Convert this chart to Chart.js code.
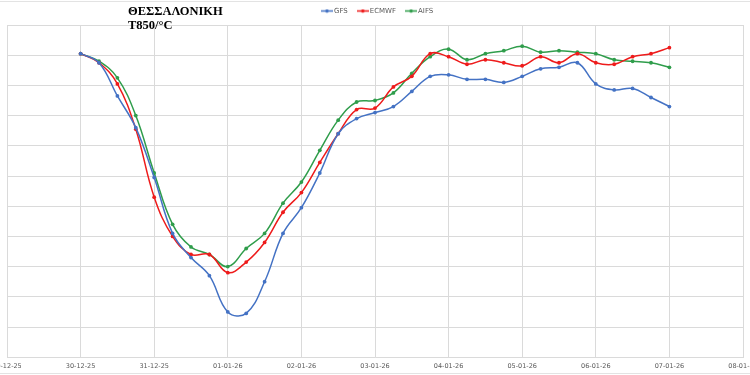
<!DOCTYPE html>
<html lang="el">
<head>
  <meta charset="UTF-8">
  <title>ΘΕΣΣΑΛΟΝΙΚΗ T850</title>
  <script src="https://cdn.jsdelivr.net/npm/chart.js"></script>
  <style>
    html, body {
      margin: 0;
      padding: 0;
      background: #fff;
      overflow: hidden;
      width: 750px;
      height: 375px;
    }
    #wrap {
      position: absolute;
      left: -20px;
      top: 0;
      width: 790px;
      height: 375px;
    }
    #frame {
      position: absolute;
      left: 0;
      top: 1px;
      width: 750px;
      height: 371px;
      border-top: 1px solid #e3e3e3;
      border-bottom: 1px solid #e3e3e3;
      pointer-events: none;
    }
  </style>
</head>
<body>
  <div id="wrap"><canvas id="t850" width="790" height="375"></canvas></div>
  <div id="frame"></div>

  <script>
    // day labels, one gridline per day (00 UTC); runs are 6-hourly from 30-12-25
    const dayLabels = ['29-12-25', '30-12-25', '31-12-25', '01-01-26', '02-01-26', '03-01-26',
                       '04-01-26', '05-01-26', '06-01-26', '07-01-26', '08-01-26'];
    const stepsPerDay = 4;
    const firstStep = 4; // 30-12-25 00

    const gfs = [10.1, 9.5, 7.3, 5.2, 1.9, -1.8, -3.4, -4.6, -7.0, -7.1, -5.0, -1.8, -0.1,
                 2.2, 4.8, 5.8, 6.2, 6.6, 7.6, 8.6, 8.7, 8.4, 8.4, 8.2, 8.6, 9.1,
                 9.2, 9.5, 8.1, 7.7, 7.8, 7.2, 6.6];
    const ecmwf = [10.1, 9.5, 8.1, 5.1, 0.6, -2.0, -3.2, -3.2, -4.4, -3.7, -2.4, -0.4, 0.9,
                   2.9, 4.8, 6.4, 6.5, 7.9, 8.6, 10.1, 9.9, 9.4, 9.7, 9.5, 9.3, 9.9,
                   9.5, 10.1, 9.5, 9.4, 9.9, 10.1, 10.5];
    const aifs = [10.1, 9.6, 8.5, 6.0, 2.2, -1.2, -2.7, -3.2, -4.0, -2.8, -1.8, 0.2, 1.6,
                  3.7, 5.7, 6.9, 7.0, 7.5, 8.8, 9.9, 10.4, 9.7, 10.1, 10.3, 10.6, 10.2,
                  10.3, 10.2, 10.1, 9.7, 9.6, 9.5, 9.2];

    const yMin = -10, yMax = 12, yStep = 2;

    const toPoints = arr => arr.map((v, i) => ({ x: firstStep + i, y: v }));

    // small line+dot marker for the legend
    function marker(color) {
      const c = document.createElement('canvas');
      c.width = 12; c.height = 5;
      const g = c.getContext('2d');
      g.strokeStyle = color; g.lineWidth = 1.5;
      g.beginPath(); g.moveTo(0, 2.5); g.lineTo(12, 2.5); g.stroke();
      g.fillStyle = color;
      g.beginPath(); g.arc(6, 2.5, 1.8, 0, Math.PI * 2); g.fill();
      return c;
    }

    const series = [
      { label: 'GFS', data: gfs, color: '#4472c4' },
      { label: 'ECMWF', data: ecmwf, color: '#ee1b1b' },
      { label: 'AIFS', data: aifs, color: '#2f9d4b' }
    ];

    const headerPlugin = {
      id: 'header',
      afterDraw(chart) {
        const ctx = chart.ctx;
        ctx.save();
        ctx.fillStyle = '#000';
        ctx.font = 'bold 12.5px "Liberation Serif", serif';
        ctx.textBaseline = 'alphabetic';
        ctx.textAlign = 'left';
        ctx.fillText('ΘΕΣΣΑΛΟΝΙΚΗ', 148, 15);
        ctx.fillText('T850/°C', 148, 28.5);

        // legend
        ctx.font = '7px "DejaVu Sans", sans-serif';
        ctx.fillStyle = '#595959';
        ctx.textBaseline = 'middle';
        let x = 341;
        const y = 11;
        series.forEach(s => {
          ctx.drawImage(marker(s.color), x, y - 2.5);
          x += 13;
          ctx.fillText(s.label, x, y + 0.5);
          x += ctx.measureText(s.label).width + 9;
        });
        ctx.restore();
      }
    };

    new Chart(document.getElementById('t850'), {
      type: 'line',
      data: {
        datasets: series.map(s => ({
          label: s.label,
          data: toPoints(s.data),
          borderColor: s.color,
          backgroundColor: s.color,
          borderWidth: 1.5,
          pointRadius: 1.9,
          pointBorderWidth: 0,
          pointBackgroundColor: s.color,
          tension: 0.4,
          fill: false
        }))
      },
      options: {
        responsive: false,
        animation: false,
        devicePixelRatio: 1,
        layout: { padding: { top: 25, left: 27, right: 27, bottom: 0 } },
        plugins: {
          legend: { display: false },
          tooltip: { enabled: false }
        },
        scales: {
          x: {
            type: 'linear',
            min: 0,
            max: (dayLabels.length - 1) * stepsPerDay,
            grid: { color: '#dadada', lineWidth: 1, drawTicks: false },
            border: { color: '#dadada' },
            ticks: {
              stepSize: stepsPerDay,
              autoSkip: false,
              maxRotation: 0,
              padding: 5,
              color: '#595959',
              font: { family: '"DejaVu Sans", sans-serif', size: 6.5 },
              callback: v => dayLabels[v / stepsPerDay]
            }
          },
          y: {
            min: yMin,
            max: yMax,
            grid: { color: '#dadada', lineWidth: 1, drawTicks: false },
            border: { color: '#dadada' },
            ticks: { stepSize: yStep, display: false }
          }
        }
      },
      plugins: [headerPlugin]
    });
  </script>
</body>
</html>
